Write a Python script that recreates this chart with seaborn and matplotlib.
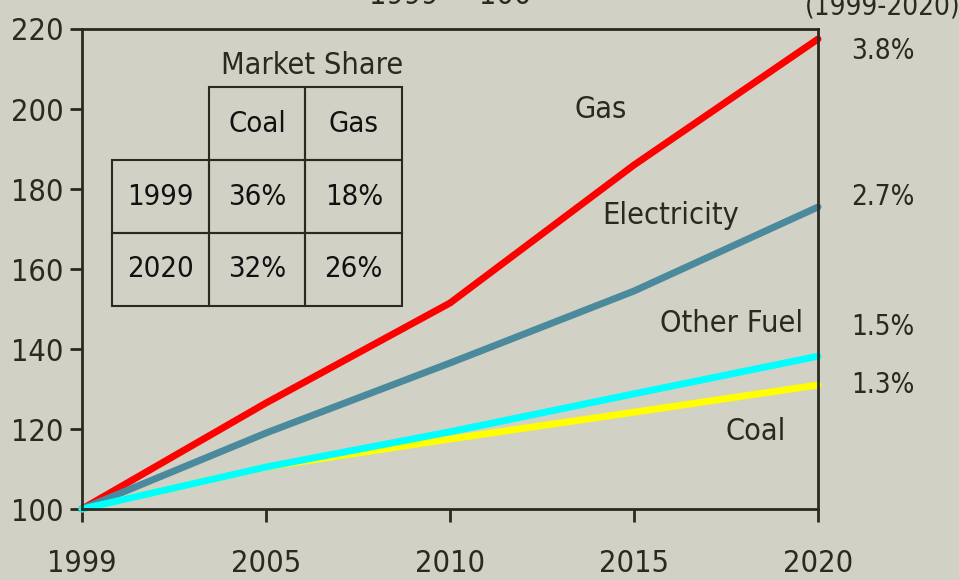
import pandas as pd
import seaborn as sns
import matplotlib.pyplot as plt

# index values, 1999 = 100
years = ['1999', '2005', '2010', '2015', '2020']
gas = [100, 126.5, 151.5, 186, 217.5]
electricity = [100, 119, 136.5, 154.5, 175.5]
other_fuel = [100, 110.5, 119.3, 128.8, 138.2]
coal = [100, 110.5, 117.5, 124.2, 131]

growth = {'Gas': '3.8%', 'Electricity': '2.7%', 'Other Fuel': '1.5%', 'Coal': '1.3%'}

share_cols = ['Coal', 'Gas']
share_rows = ['1999', '2020']
share_vals = [['36%', '18%'], ['32%', '26%']]

bg = '#D1D1C5'
ink = '#2A2A20'

sns.set_style('ticks')
plt.rcParams['font.family'] = ['DejaVu Sans']
plt.rcParams['font.stretch'] = 'condensed'
plt.rcParams['text.color'] = ink

data = pd.DataFrame({
    'Year': years * 4,
    'Index': coal + gas + electricity + other_fuel,
    'Fuel': ['Coal'] * 5 + ['Gas'] * 5 + ['Electricity'] * 5 + ['Other Fuel'] * 5,
})
colors = {'Coal': '#FFFF00', 'Gas': '#FF0000', 'Electricity': '#4A8A9C', 'Other Fuel': '#00FFFF'}

fig = plt.figure(figsize=(9.59, 5.8), dpi=100, facecolor=bg)
ax = fig.add_axes([0.0855, 0.1224, 0.7675, 0.8276])
ax.set_facecolor(bg)

sns.lineplot(data=data, x='Year', y='Index', hue='Fuel', palette=colors,
             linewidth=5, legend=False, ax=ax, solid_capstyle='round')
for line in ax.lines:
    line.set_clip_on(False)

ax.set_xlim(0, 4)
ax.set_ylim(100, 220)
ax.set_yticks(range(100, 221, 20))
ax.set_xlabel('')
ax.set_ylabel('')
for s in ax.spines.values():
    s.set_color(ink)
    s.set_linewidth(2)
ax.tick_params(axis='both', colors=ink, labelcolor=ink, labelsize=22, width=2, length=9)
ax.tick_params(axis='x', pad=20)
ax.tick_params(axis='y', pad=4)

# series labels inside the plot
ax.text(2.82, 200, 'Gas', fontsize=22, ha='center', va='center')
ax.text(3.2, 173.5, 'Electricity', fontsize=22, ha='center', va='center')
ax.text(3.53, 146.5, 'Other Fuel', fontsize=22, ha='center', va='center')
ax.text(3.66, 119.5, 'Coal', fontsize=22, ha='center', va='center')

# growth rates on the right
for name, y in [('Gas', 214.5), ('Electricity', 178), ('Other Fuel', 145.5), ('Coal', 131)]:
    fig.text(883 / 959, 1 - (509 - (y - 100) * 4) / 580, growth[name],
             fontsize=20, ha='center', va='center')

fig.text(450 / 959, 1 - 4 / 580, '1999 = 100', fontsize=22, ha='center', va='baseline')
fig.text(883 / 959, 1 - 14 / 580, '(1999-2020)', fontsize=20, ha='center', va='baseline')

# market share table
ax.text(0.312, 0.925, 'Market Share', transform=ax.transAxes, fontsize=22,
        ha='center', va='center')
cells = [[''] + share_cols] + [[r] + v for r, v in zip(share_rows, share_vals)]
tbl = ax.table(cellText=cells, cellLoc='center', bbox=[0.0408, 0.423, 0.394, 0.456])
tbl.auto_set_font_size(False)
for (r, c), cell in tbl.get_celld().items():
    cell.set_facecolor('none')
    cell.set_edgecolor(ink)
    cell.set_linewidth(1.5)
    cell.get_text().set_fontsize(21)
    cell.get_text().set_color('#111111')
    if r == 0 and c == 0:
        cell.set_linewidth(0)

fig.savefig('out.png', dpi=100, facecolor=bg)
